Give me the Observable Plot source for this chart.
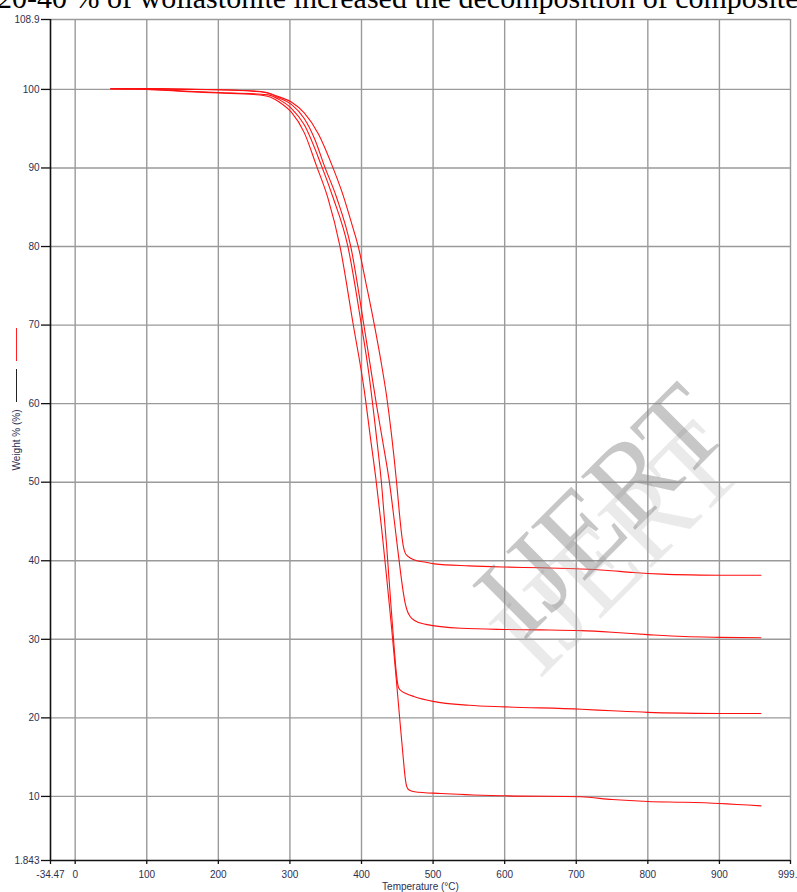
<!DOCTYPE html>
<html>
<head>
<meta charset="utf-8">
<script src="https://cdn.jsdelivr.net/npm/d3@7"></script>
<script src="https://cdn.jsdelivr.net/npm/@observablehq/plot@0.6"></script>
<style>
  body { margin: 0; background: #fff; }
  #wrap { position: relative; width: 797px; height: 892px; overflow: hidden; background: #fff; }
  #wrap svg { position: absolute; left: 0; top: 0; }
  .top-text { position: absolute; left: -3px; top: -17px; font: 30px "Liberation Serif", "Times New Roman", serif; white-space: nowrap; color: #000; line-height: 1; }
  .wm { position: absolute; font: 116px "Liberation Serif", "Times New Roman", serif; white-space: nowrap; line-height: 1; transform-origin: center center; pointer-events: none; }
  .sw { position: absolute; width: 1.4px; }
</style>
</head>
<body>
<div id="wrap"></div>
<script>
// ---- Data ----
const seriesNames = ["Sample A", "Sample B", "Sample C", "Sample D"];

const tempA = [50,100,150,200,250,270,285,302,320,340,359,374,386,396,407,418,427,435,442,449,453,456,458.5,461,465,474,490,502,550,600,650,707,740,780,820,860,900,958];
const weightA = [100.1,100.1,100.05,99.95,99.8,99.55,99.05,98.4,97.0,94.3,90.3,86.6,83.0,79.8,75.0,70.0,65.5,61.0,56.0,50.0,46.0,43.4,41.8,41.0,40.55,40.1,39.8,39.6,39.35,39.2,39.1,38.95,38.8,38.5,38.3,38.2,38.15,38.15];

const tempB = [50,100,150,200,250,270,285,302,320,335,348,365,385,403,412,421,430,439,445,450,455,458,461,464,468,474,490,539,600,650,707,750,800,850,900,958];
const weightB = [100.1,100.1,100.0,99.95,99.75,99.5,98.9,98.1,96.3,93.6,90.3,86.3,80.0,70.2,65.0,59.8,55.0,50.0,45.7,41.9,38.2,36.2,34.6,33.6,32.9,32.4,31.9,31.4,31.25,31.2,31.1,30.9,30.6,30.35,30.25,30.2];

const tempC = [50,100,150,200,250,270,285,302,320,344,360,381,399,410,420,428,435,441,446,449.5,452,456,462,474,500,550,600,707,750,800,850,900,958];
const weightC = [100.1,100.05,99.8,99.6,99.45,99.3,98.7,97.6,95.5,90.3,86.3,80.0,70.5,64.0,56.5,49.8,42.0,34.5,28.5,25.0,23.8,23.4,23.1,22.7,22.1,21.6,21.4,21.1,20.9,20.7,20.6,20.55,20.55];

const tempD = [50,100,150,200,250,270,285,302,320,337,353,370,388,404,412,420,428,435,442,448,453,458,461,463,466,474,511,600,707,750,800,850,900,958];
const weightD = [100.1,100.0,99.75,99.55,99.35,99.1,98.4,97.1,94.5,90.3,86.2,80.0,70.3,61.6,56.0,50.5,44.2,38.0,31.5,25.5,20.3,15.2,12.4,11.3,10.85,10.6,10.37,10.08,9.95,9.6,9.35,9.25,9.1,8.8];

const xTicks = [-34.47, 0, 100, 200, 300, 400, 500, 600, 700, 800, 900, 999.3];
const yTicks = [1.843, 10, 20, 30, 40, 50, 60, 70, 80, 90, 100, 108.9];
const xGrid = [0, 100, 200, 300, 400, 500, 600, 700, 800, 900, 999.3];
const yGrid = [10, 20, 30, 40, 50, 60, 70, 80, 90, 100, 108.9];

// ---- Build table ----
const temps = [tempA, tempB, tempC, tempD];
const weights = [weightA, weightB, weightC, weightD];
const rows = [];
seriesNames.forEach((name, i) => {
  temps[i].forEach((t, j) => rows.push({series: name, t, w: weights[i][j]}));
});

const chart = Plot.plot({
  width: 797,
  height: 892,
  marginLeft: 50,
  marginRight: 7,
  marginTop: 19,
  marginBottom: 32,
  style: {fontFamily: "'Liberation Sans', Arial, sans-serif", fontSize: "10px", background: "transparent"},
  x: {domain: [-34.47, 999.3]},
  y: {domain: [1.843, 108.9]},
  marks: [
    Plot.ruleX(xGrid, {stroke: "#9a9a9a", strokeWidth: 1.4}),
    Plot.ruleY(yGrid, {stroke: "#9a9a9a", strokeWidth: 1.4}),
    Plot.line(rows, {x: "t", y: "w", z: "series", stroke: "#ff1010", strokeWidth: 1.1, curve: "monotone-x"}),
    Plot.ruleX([-34.47], {stroke: "#111", strokeWidth: 1.6}),
    Plot.ruleY([1.843], {stroke: "#111", strokeWidth: 1.6}),
    Plot.axisX({ticks: xTicks, tickSize: 4, tickPadding: 6, tickFormat: d => String(d), stroke: "#111", strokeWidth: 1.3, fill: "#2e3050", fontSize: 10, label: null}),
    Plot.axisY({ticks: yTicks, tickSize: 9, tickPadding: 2, tickFormat: d => String(d), stroke: "#111", strokeWidth: 1.3, fill: "#2e3050", fontSize: 10, label: null}),
    Plot.text(["Temperature (°C)"], {frameAnchor: "bottom", dy: 29, fill: "#2e3050", fontSize: 10}),
    Plot.text(["Weight % (%)"], {frameAnchor: "left", dx: -34, textAnchor: "middle", rotate: -90, fill: "#2e3050", fontSize: 10})
  ]
});

const wrap = document.getElementById("wrap");
wrap.appendChild(chart);

// watermark
const wm2 = document.createElement("div");
wm2.className = "wm"; wm2.textContent = "IJERT";
wm2.style.color = "rgba(170,170,170,0.25)";
wm2.style.left = "468px"; wm2.style.top = "490px";
wm2.style.transform = "rotate(-45deg)";
wrap.appendChild(wm2);
const wm1 = document.createElement("div");
wm1.className = "wm"; wm1.textContent = "IJERT";
wm1.style.color = "rgba(130,130,130,0.45)";
wm1.style.left = "452px"; wm1.style.top = "452px";
wm1.style.transform = "rotate(-45deg)";
wrap.appendChild(wm1);

// top (cropped) running text
const tt = document.createElement("div");
tt.className = "top-text";
tt.textContent = "20-40 % of wollastonite increased the decomposition of composites";
wrap.appendChild(tt);

// legend swatches beside the y label
const s1 = document.createElement("div");
s1.className = "sw"; s1.style.left = "15.5px"; s1.style.top = "328px"; s1.style.height = "33px"; s1.style.background = "#ff2020";
wrap.appendChild(s1);
const s2 = document.createElement("div");
s2.className = "sw"; s2.style.left = "15.5px"; s2.style.top = "369px"; s2.style.height = "33px"; s2.style.background = "#222";
wrap.appendChild(s2);
</script>
</body>
</html>
